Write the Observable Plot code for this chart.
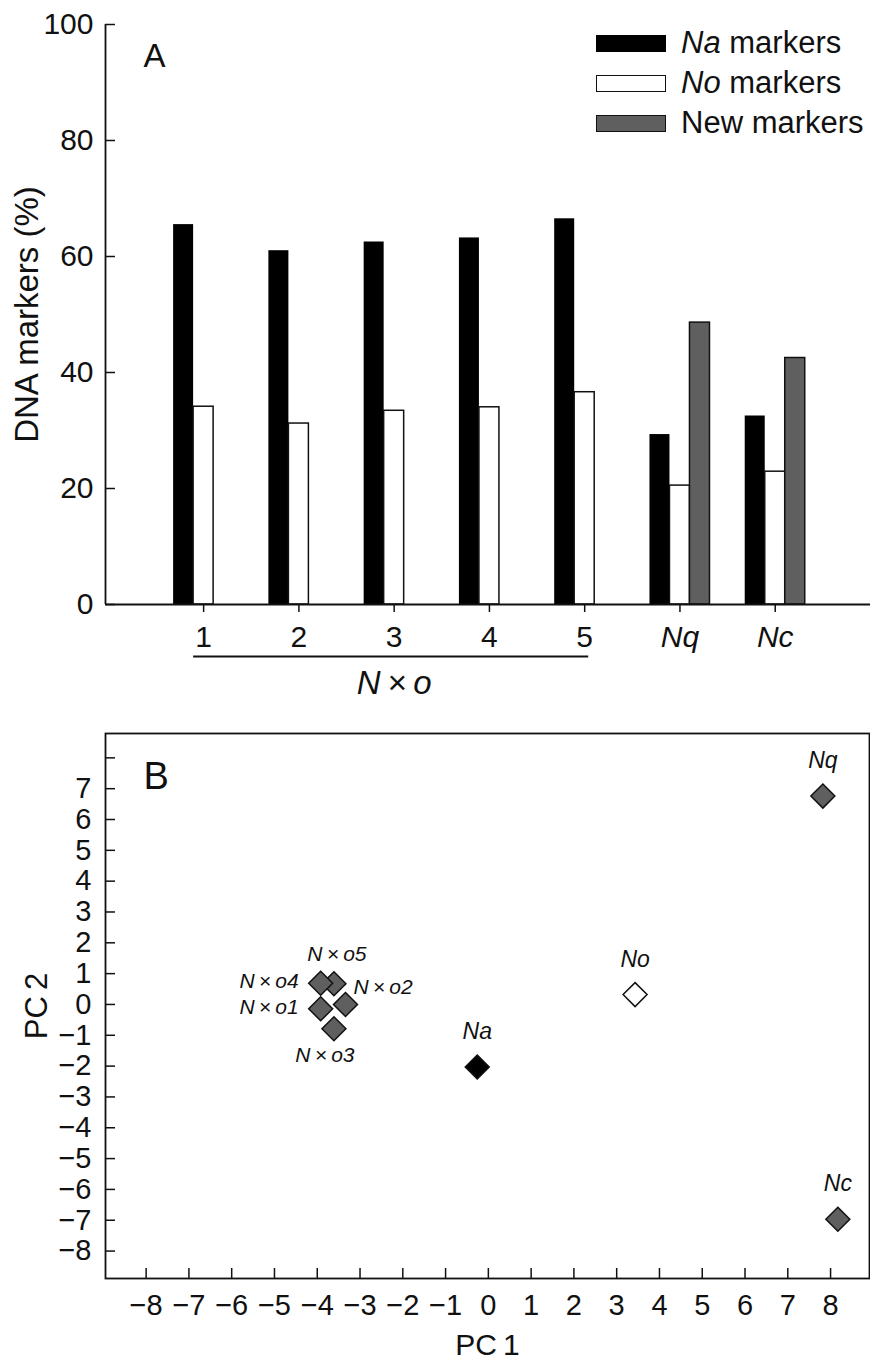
<!DOCTYPE html>
<html>
<head>
<meta charset="utf-8">
<script src="https://cdn.jsdelivr.net/npm/d3@7"></script>
<script src="https://cdn.jsdelivr.net/npm/@observablehq/plot@0.6"></script>
<style>
  body { margin: 0; background: #fff; }
  #wrap { position: relative; width: 870px; height: 1363px; font-family: "Liberation Sans", Arial, Helvetica, sans-serif; color: #111; }
  #wrap svg { display: block; }
  .legend { position: absolute; left: 596px; top: 23px; }
  .row { display: flex; align-items: center; height: 40px; font-size: 31px; white-space: nowrap; }
  .sw { width: 70px; height: 17px; box-sizing: border-box; border: 1.5px solid #111; margin-right: 15px; }
</style>
</head>
<body>
<div id="wrap"></div>
<script>
// ---------- Panel A data ----------
const groups = ["1", "2", "3", "4", "5", "Nq", "Nc"];
const hybridGroups = ["1", "2", "3", "4", "5"];
const italicTerms = ["Na", "No", "Nq", "Nc"];
const seriesNames = ["Na markers", "No markers", "New markers"];
const naValues = [65.5, 61.0, 62.5, 63.2, 66.5, 29.3, 32.5];
const noValues = [34.1, 31.2, 33.4, 34.0, 36.6, 20.5, 22.9];
const newValues = [null, null, null, null, null, 48.6, 42.5];
const yTicksA = [0, 20, 40, 60, 80, 100];
const groupLabel = "N\u2009×\u2009o";
const yLabelA = "DNA markers (%)";

// ---------- Panel B data ----------
const pcNames = ["N × o1", "N × o2", "N × o3", "N × o5", "N × o4", "Na", "No", "Nq", "Nc"];
const pc1 = [-3.92, -3.34, -3.61, -3.61, -3.92, -0.26, 3.43, 7.82, 8.17];
const pc2 = [-0.14, 0.00, -0.79, 0.67, 0.69, -2.03, 0.32, 6.76, -6.97];
const pcTicks = [-8, -7, -6, -5, -4, -3, -2, -1, 0, 1, 2, 3, 4, 5, 6, 7, 8];
const pcYLabelTicks = [-8, -7, -6, -5, -4, -3, -2, -1, 0, 1, 2, 3, 4, 5, 6, 7];

// ---------- styles ----------
const font = '"Liberation Sans", Arial, Helvetica, sans-serif';
const ink = "#111";
const gray = "#5f5f5f";
const seriesStyle = [
  {fill: "#000", stroke: "none"},
  {fill: "#fff", stroke: ink, strokeWidth: 1.5},
  {fill: gray, stroke: ink, strokeWidth: 1.5}
];
const barW = 0.21;

// ---------- Panel A ----------
const rows = [];
groups.forEach((g, gi) => {
  [naValues, noValues, newValues].forEach((vals, si) => {
    if (vals[gi] != null) rows.push({group: g, gi, si, series: seriesNames[si], value: vals[gi]});
  });
});
const xDomainA = [-1.03, 7.0];
const hybridIdx = hybridGroups.map(g => groups.indexOf(g));
const otherIdx = groups.map((g, i) => i).filter(i => !hybridGroups.includes(groups[i]));

const A = Plot.plot({
  width: 870, height: 700,
  marginLeft: 105, marginRight: 0, marginTop: 24, marginBottom: 96,
  style: {fontFamily: font, fontSize: "30px", color: ink, background: "#fff", overflow: "visible"},
  x: {domain: xDomainA, label: null},
  y: {domain: [0, 100], label: null},
  marks: [
    ...seriesStyle.map((s, si) => Plot.rectY(rows.filter(d => d.si === si), {
      x1: d => d.gi + (d.si - 1.5) * barW,
      x2: d => d.gi + (d.si - 0.5) * barW,
      y1: 0, y2: "value", ...s
    })),
    Plot.ruleY([0], {stroke: ink, strokeWidth: 1.8}),
    Plot.ruleX([xDomainA[0]], {stroke: ink, strokeWidth: 1.8}),
    Plot.axisY({ticks: yTicksA, tickSize: -10, tickFormat: () => "", label: null, stroke: ink, strokeWidth: 1.5}),
    Plot.axisY({ticks: yTicksA, tickSize: 0, tickPadding: 12, label: null, fontSize: 30, fill: ink}),
    Plot.axisX({ticks: hybridIdx, tickFormat: i => groups[i], tickSize: 8, tickPadding: 13, label: null, fontSize: 30, stroke: ink, strokeWidth: 1.5, fill: ink}),
    Plot.axisX({ticks: otherIdx, tickFormat: i => groups[i], tickSize: 8, tickPadding: 13, label: null, fontSize: 30, fontStyle: "italic", stroke: ink, strokeWidth: 1.5, fill: ink}),
    Plot.ruleY([0], {x1: d3.min(hybridIdx), x2: d3.max(hybridIdx), dy: 52, insetLeft: -10, insetRight: -4, stroke: ink, strokeWidth: 2}),
    Plot.text([groupLabel], {x: d3.mean(hybridIdx), y: 0, dy: 89, lineAnchor: "bottom", textAnchor: "middle", fontSize: 33, fontStyle: "italic", fill: ink}),
    Plot.text(["A"], {frameAnchor: "top-left", dx: 38, dy: 42, textAnchor: "start", lineAnchor: "bottom", fontSize: 33, fill: ink}),
    Plot.text([yLabelA], {frameAnchor: "left", rotate: -90, dx: -78, textAnchor: "middle", lineAnchor: "middle", fontSize: 33, fill: ink})
  ]
});

// ---------- Panel B ----------
const points = pcNames.map((name, i) => ({name, pc1: pc1[i], pc2: pc2[i]}));
const pointFill = name => name === "Na" ? "#000" : name === "No" ? "#fff" : gray;
const labelSide = {"N × o1": "left", "N × o4": "left", "N × o2": "right", "N × o3": "below", "N × o5": "above"};
const labelStyle = {
  left:   {textAnchor: "end",    dx: -22, dy: 5,   fontSize: 21},
  right:  {textAnchor: "start",  dx: 8,   dy: -10, fontSize: 21},
  above:  {textAnchor: "middle", dx: 3,   dy: -23, fontSize: 21},
  below:  {textAnchor: "middle", dx: -9,  dy: 33,  fontSize: 21},
  parent: {textAnchor: "middle", dx: 0,   dy: -28, fontSize: 23}
};
const sideOf = d => labelSide[d.name] || "parent";
const labelText = d => d.name.replace(/ × /g, "\u2009×\u2009");

const B = Plot.plot({
  width: 870, height: 663,
  marginLeft: 105, marginRight: 1, marginTop: 33, marginBottom: 85,
  style: {fontFamily: font, fontSize: "29px", color: ink, background: "#fff", overflow: "visible"},
  x: {domain: [-8.95, 8.91], label: null},
  y: {domain: [-8.89, 8.79], label: null},
  color: {type: "identity"},
  marks: [
    Plot.frame({stroke: ink, strokeWidth: 1.8}),
    Plot.axisY({ticks: pcTicks, tickSize: -10, tickFormat: () => "", label: null, stroke: ink, strokeWidth: 1.5}),
    Plot.axisY({ticks: pcYLabelTicks, tickSize: 0, tickPadding: 14, label: null, fontSize: 29, fill: ink}),
    Plot.axisX({ticks: pcTicks, tickSize: -10, tickFormat: () => "", label: null, stroke: ink, strokeWidth: 1.5}),
    Plot.axisX({ticks: pcTicks, tickSize: 0, tickPadding: 16, label: null, fontSize: 29, fill: ink}),
    Plot.dot(points, {x: "pc1", y: "pc2", symbol: "diamond2", r: 10.8, fill: d => pointFill(d.name), stroke: ink, strokeWidth: 1.5}),
    ...Object.entries(labelStyle).map(([side, s]) =>
      Plot.text(points.filter(d => sideOf(d) === side), {
        x: "pc1", y: "pc2", text: labelText, lineAnchor: "bottom", fontStyle: "italic", fill: ink, ...s
      })),
    Plot.text(["B"], {frameAnchor: "top-left", dx: 38, dy: 55, textAnchor: "start", lineAnchor: "bottom", fontSize: 38, fill: ink}),
    Plot.text(["PC\u20092"], {frameAnchor: "left", rotate: -90, dx: -68, textAnchor: "middle", lineAnchor: "middle", fontSize: 31, fill: ink}),
    Plot.text(["PC\u20091"], {frameAnchor: "bottom", dy: 76, textAnchor: "middle", lineAnchor: "bottom", fontSize: 30, fill: ink})
  ]
});

const wrap = document.getElementById("wrap");
wrap.appendChild(A);
wrap.appendChild(B);

// ---------- Legend (HTML overlay) ----------
const legend = document.createElement("div");
legend.className = "legend";
seriesNames.forEach((name, si) => {
  const row = document.createElement("div");
  row.className = "row";
  const sw = document.createElement("span");
  sw.className = "sw";
  sw.style.background = seriesStyle[si].fill;
  if (si === 0) sw.style.borderColor = "#000";
  row.appendChild(sw);
  const label = document.createElement("span");
  const [first, ...rest] = name.split(" ");
  if (italicTerms.includes(first)) {
    const it = document.createElement("i");
    it.textContent = first;
    label.appendChild(it);
    label.appendChild(document.createTextNode(" " + rest.join(" ")));
  } else {
    label.textContent = name;
  }
  row.appendChild(label);
  legend.appendChild(row);
});
wrap.appendChild(legend);
</script>
</body>
</html>
